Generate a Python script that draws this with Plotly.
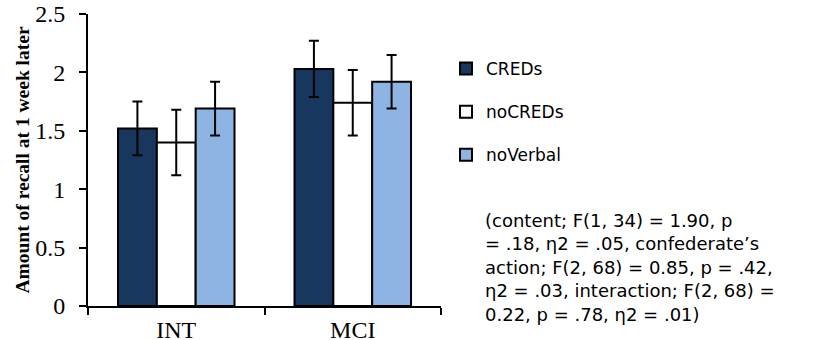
import plotly.graph_objects as go

categories = ["INT", "MCI"]
series_names = ["CREDs", "noCREDs", "noVerbal"]
creds = [1.52, 2.03]
nocreds = [1.40, 1.74]
noverbal = [1.69, 1.92]
creds_err = [0.23, 0.24]
nocreds_err = [0.28, 0.28]
noverbal_err = [0.23, 0.23]
ytick_vals = [0, 0.5, 1, 1.5, 2, 2.5]
ytick_text = ["0", "0.5", "1", "1.5", "2", "2.5"]
stats_lines = [
    "(content; F(1, 34) = 1.90, p",
    "= .18, \u03b72 = .05, confederate\u2019s",
    "action; F(2, 68) = 0.85, p = .42,",
    "\u03b72 = .03, interaction; F(2, 68) =",
    "0.22, p = .78, \u03b72 = .01)",
]

colors = ["#17375E", "#FFFFFF", "#8EB4E3"]
values = [creds, nocreds, noverbal]
errs = [creds_err, nocreds_err, noverbal_err]

W, H = 818, 340
L, T, PW, PH = 88, 14, 353, 292

fig = go.Figure()
for i, (name, vals, err) in enumerate(zip(series_names, values, errs)):
    fig.add_trace(go.Bar(
        x=categories, y=vals, name=name,
        marker=dict(color=colors[i], line=dict(color="black", width=2)),
        error_y=dict(type="data", array=err, visible=True, color="black",
                     thickness=2, width=5),
        legendgroup=name,
    ))

fig.update_layout(
    width=W, height=H,
    margin=dict(l=L, r=W - L - PW, t=T, b=H - T - PH, autoexpand=False),
    paper_bgcolor="white", plot_bgcolor="white",
    barmode="group", bargap=0.34, bargroupgap=0,
    showlegend=True,
    legend=dict(
        x=446 / W, xref="container", y=1 - 51 / H, yref="container",
        xanchor="left", yanchor="top",
        font=dict(family="DejaVu Sans", size=17, color="black"),
        tracegroupgap=18, bgcolor="rgba(0,0,0,0)",
    ),
    font=dict(family="Liberation Serif", color="black"),
)
fig.update_xaxes(
    range=[-0.5, 1.5], showline=True, linecolor="black", linewidth=2,
    ticks="outside", tickson="boundaries", ticklen=7, tickwidth=2, tickcolor="black",
    tickfont=dict(family="Liberation Serif", size=24, color="black"),
    ticklabelstandoff=1, ticklabeloverflow="allow",
    showgrid=False, zeroline=False, automargin=False,
)
fig.update_yaxes(
    range=[0, 2.5], tickvals=ytick_vals, ticktext=ytick_text,
    showline=True, linecolor="black", linewidth=2,
    ticks="outside", ticklen=7, tickwidth=2, tickcolor="black",
    tickfont=dict(family="Liberation Serif", size=24, color="black"),
    ticklabelstandoff=9, ticklabeloverflow="allow",
    showgrid=False, zeroline=False, automargin=False,
    title=dict(text="<b>Amount of recall at 1 week later</b>",
               font=dict(family="Liberation Serif", size=19.5, color="black"),
               standoff=0),
)
fig.add_annotation(
    text="<br>".join(stats_lines), xref="paper", yref="paper",
    x=(483 - 88) / PW, y=(306 - 208) / PH, xanchor="left", yanchor="top",
    align="left", showarrow=False,
    font=dict(family="DejaVu Sans", size=18, color="black"),
)
# remove the browser's default 8px body margin so the figure fills the window
fig.write_html("out.html", config={"displayModeBar": False},
               post_script="document.body.style.margin='0';")
